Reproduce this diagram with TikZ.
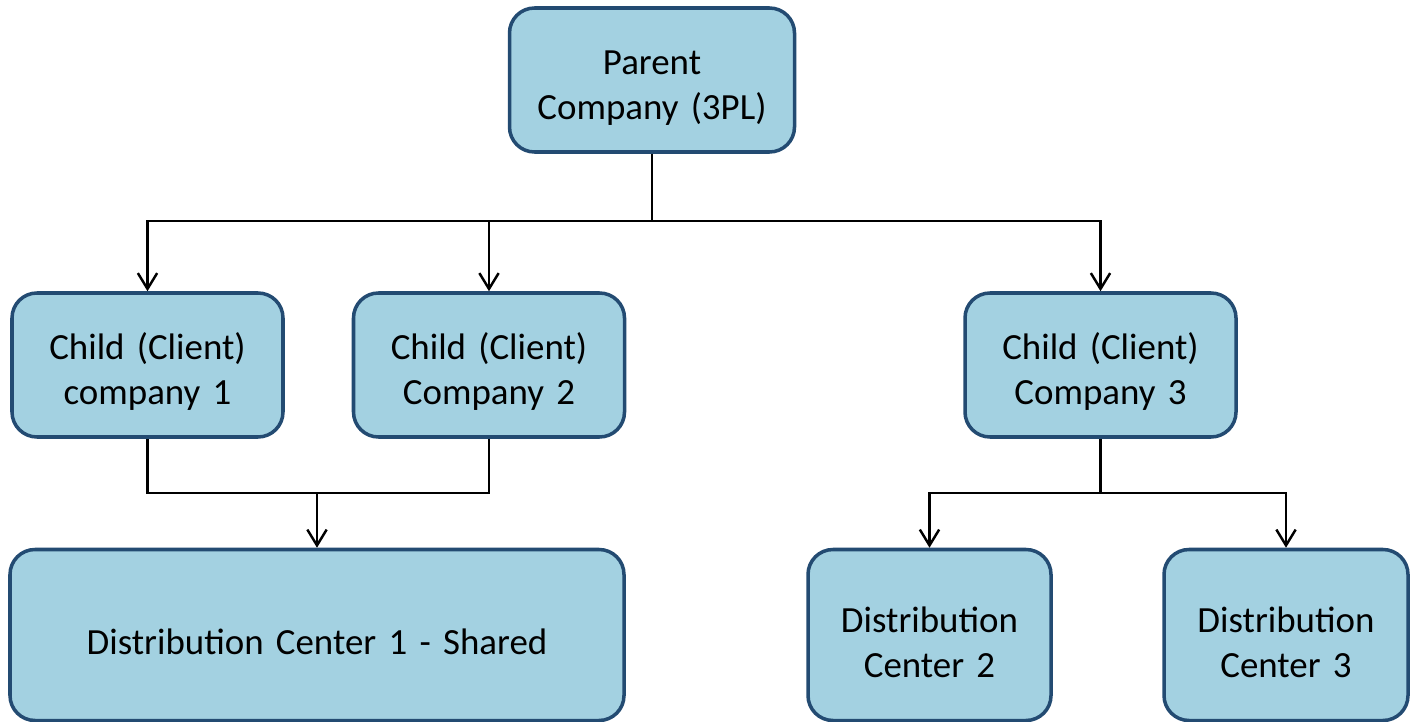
\documentclass[tikz,border=0pt]{standalone}
\usepackage{fontspec}
\setmainfont{Carlito}
\usepackage{xcolor}
\usetikzlibrary{arrows.meta}

\definecolor{boxfill}{HTML}{A3D1E1}
\definecolor{boxline}{HTML}{234B72}

\begin{document}
\begin{tikzpicture}[
            block/.style={rectangle, draw=boxline, line width=2pt, fill=boxfill, text width=5cm, text centered, rounded corners=0.5cm, minimum height=2.88cm, font=\fontsize{21}{25.6}\selectfont, execute at begin node={\rule{0pt}{0.8cm}}},
            link/.style={line width=1.2pt, black},
            arrow/.style={link, -{Straight Barb[length=9pt,width=11pt,line width=1.4pt]}}
        ]
            \useasboundingbox (0,0) rectangle (28.38,14.42);

            % Parent block
            \node[block, minimum width=5.7cm] (parent) at (13.04,12.82) {Parent\\Company (3PL)};

            % Client blocks
            \node[block, minimum width=5.42cm] (child1) at (2.95,7.12) {Child (Client)\\company 1};
            \node[block, minimum width=5.42cm] (child2) at (9.78,7.12) {Child (Client)\\Company 2};
            \node[block, minimum width=5.42cm] (child3) at (22.01,7.12) {Child (Client)\\Company 3};

            % Distribution center blocks
            \node[block, text width=11cm, minimum width=12.28cm, minimum height=3.42cm] (dc1) at (6.34,1.72) {Distribution Center 1 - Shared};
            \node[block, text width=4.4cm, minimum width=4.86cm, minimum height=3.42cm] (dc2) at (18.59,1.72) {Distribution\\Center 2};
            \node[block, text width=4.4cm, minimum width=4.88cm, minimum height=3.42cm] (dc3) at (25.72,1.72) {Distribution\\Center 3};

            % Junction points
            \coordinate (topjoin) at (13.04,10.0);
            \coordinate (leftjoin) at (6.34,4.56);
            \coordinate (rightjoin) at (22.01,4.56);

            % Arrows from the parent
            \draw[link] (parent.south) -- (topjoin);
            \draw[arrow] (topjoin) -| (child1.north);
            \draw[arrow] (topjoin) -| (child2.north);
            \draw[arrow] (topjoin) -| (child3.north);

            % Arrows to the shared center
            \draw[link] (child1.south) |- (leftjoin);
            \draw[link] (child2.south) |- (leftjoin);
            \draw[arrow] (leftjoin) -- (dc1.north);

            % Arrows to centers 2 and 3
            \draw[link] (child3.south) -- (rightjoin);
            \draw[arrow] (rightjoin) -| (dc2.north);
            \draw[arrow] (rightjoin) -| (dc3.north);
        \end{tikzpicture}
\end{document}
